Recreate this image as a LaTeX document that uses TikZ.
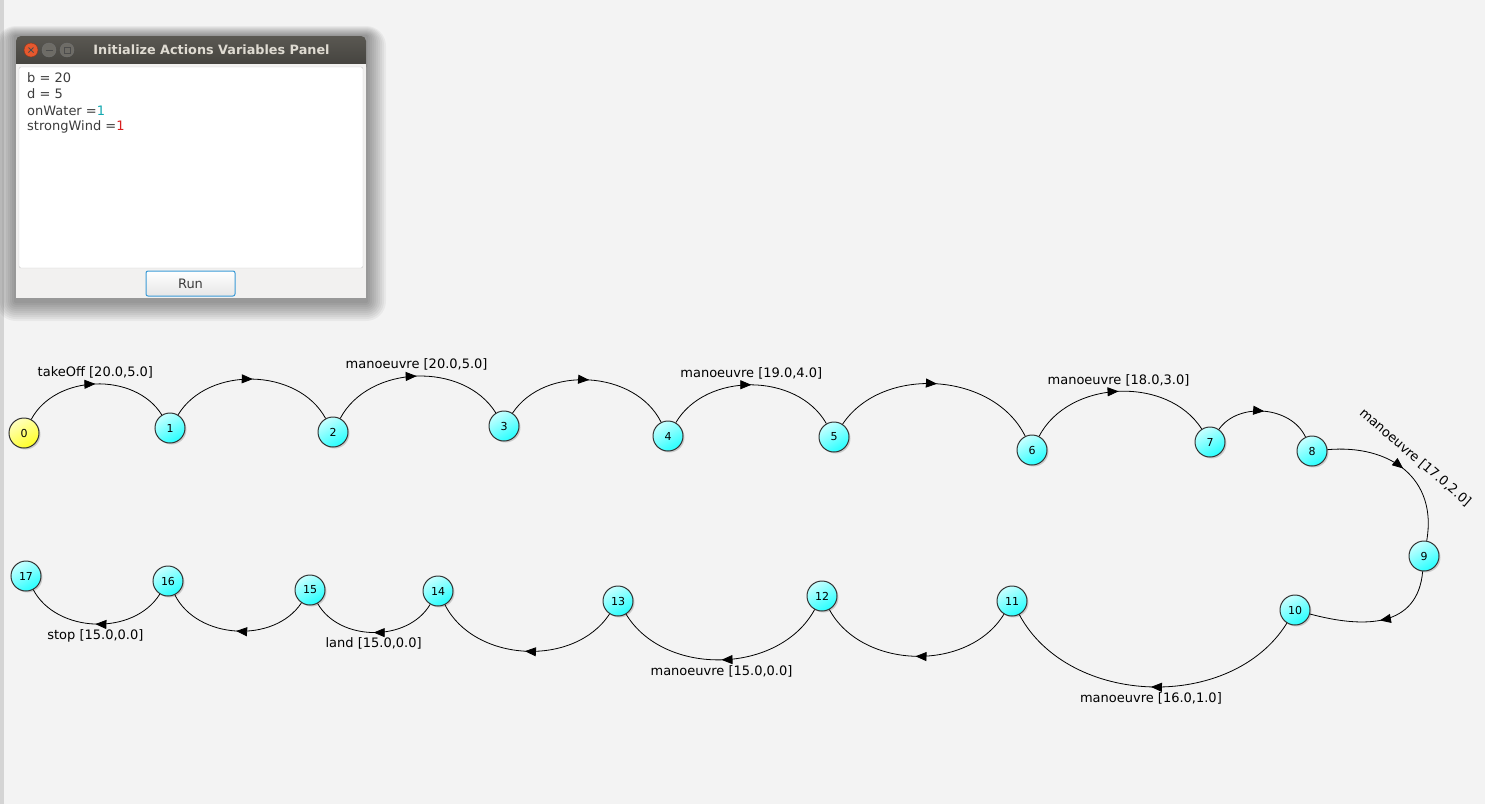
\documentclass[tikz,border=0pt]{standalone}
\usepackage{fontspec}
\setmainfont{DejaVu Sans}
\usetikzlibrary{arrows.meta,decorations.markings,shadows}

\definecolor{bgcol}{HTML}{F3F3F3}
\definecolor{stripcol}{HTML}{D4D4D4}
\definecolor{titletop}{HTML}{5A5852}
\definecolor{titlebot}{HTML}{3F3E3A}
\definecolor{titletext}{HTML}{DFDBD2}
\definecolor{winbody}{HTML}{F2F1F0}
\definecolor{panelborder}{HTML}{C9C9C9}
\definecolor{paneltext}{HTML}{3C3C3C}
\definecolor{valcyan}{HTML}{12A8B0}
\definecolor{valred}{HTML}{D81E1E}
\definecolor{closecol}{HTML}{E5582E}
\definecolor{wbtncol}{HTML}{6E6C66}
\definecolor{runborder}{HTML}{3A9AD6}

\begin{document}
\begin{tikzpicture}[
        x=1pt, y=1pt,
        every node/.style={font=\fontsize{13}{15}\selectfont},
        statenode/.style={circle, draw=black!80, line width=1pt, minimum size=30pt, inner sep=0pt, top color=cyan!22!white, bottom color=cyan!85!white, shading angle=30, drop shadow={shadow xshift=1.5pt, shadow yshift=-1.5pt, opacity=0.35}, font=\fontsize{11}{12}\selectfont},
        startnode/.style={statenode, top color=yellow!25!white, bottom color=yellow!85!white, shading angle=30},
        trans/.style={draw=black, line width=0.8pt, postaction={decorate}, decoration={markings, mark=at position 0.5 with {\arrow{Triangle[length=11pt,width=9pt]}}}},
        tlabel/.style={inner sep=1pt},
        wbtn/.style={circle, minimum size=14pt, inner sep=0pt, draw=black!55, fill=wbtncol},
        winshade/.style={fill=black, opacity=0.045}
        ]

        % Canvas and left border strip
        \fill[bgcol] (0,0) rectangle (1485,-804);
        \useasboundingbox (0,0) rectangle (1485,-804);
        \fill[stripcol] (0,0) rectangle (4,-804);

        % Soft shadow of the panel window
        \fill[winshade, rounded corners=20pt] (-4,-26) rectangle (386,-321);
        \fill[winshade, rounded corners=18pt] (-2,-27) rectangle (384,-319);
        \fill[winshade, rounded corners=16pt] (0,-28) rectangle (382,-317);
        \fill[winshade, rounded corners=14pt] (2,-29) rectangle (380,-315);
        \fill[winshade, rounded corners=12pt] (4,-30) rectangle (378,-313);
        \fill[winshade, rounded corners=10pt] (6,-31) rectangle (376,-311);
        \fill[winshade, rounded corners=8pt] (8,-32) rectangle (374,-309);
        \fill[winshade, rounded corners=6pt] (10,-33) rectangle (372,-307);
        \fill[winshade, rounded corners=4pt] (12,-34) rectangle (370,-305);
        \fill[winshade, rounded corners=2pt] (14,-35) rectangle (368,-303);

        % Initialize Actions Variables Panel window
        \shade[top color=titletop, bottom color=titlebot, rounded corners=5pt] (16,-36) rectangle (366,-72);
        \fill[winbody] (16,-64) rectangle (366,-298);
        \node[wbtn, fill=closecol, draw=closecol!60!black] (closebtn) at (31,-50) {};
        \node[wbtn] (minbtn) at (49,-50) {};
        \node[wbtn] (maxbtn) at (67,-50) {};
        \draw[black!70, line width=0.8pt] ([shift={(-2.5,-2.5)}]closebtn.center) -- ([shift={(2.5,2.5)}]closebtn.center) ([shift={(-2.5,2.5)}]closebtn.center) -- ([shift={(2.5,-2.5)}]closebtn.center);
        \draw[black!70, line width=1pt] ([xshift=-3.5pt]minbtn.center) -- ([xshift=3.5pt]minbtn.center);
        \draw[black!70, line width=0.8pt] ([shift={(-3,-3)}]maxbtn.center) rectangle ([shift={(3,3)}]maxbtn.center);
        \node[text=titletext, font=\bfseries\fontsize{12.8}{14}\selectfont] (wintitle) at (211.5,-50) {Initialize Actions Variables Panel};

        % Text area with the initial values
        \draw[panelborder, fill=white, rounded corners=2pt] (19,-67) rectangle (363,-268);
        \node[anchor=west, text=paneltext, inner sep=0pt] (varb) at (27,-78) {b = 20};
        \node[anchor=west, text=paneltext, inner sep=0pt] (vard) at (27,-94) {d = 5};
        \node[anchor=west, text=paneltext, inner sep=0pt] (varwater) at (27,-111) {onWater =\textcolor{valcyan}{1}};
        \node[anchor=west, text=paneltext, inner sep=0pt] (varwind) at (27,-127) {strongWind =\textcolor{valred}{1}};

        % Run button
        \shade[top color=white, bottom color=black!10, draw=runborder, line width=1pt, rounded corners=2pt] (146,-271) rectangle (235,-296);
        \node[text=paneltext] (runlabel) at (190.5,-284) {Run};

        % States of the plan
        \node[startnode] (s0) at (24,-433) {0};
        \node[statenode] (s1) at (170,-428) {1};
        \node[statenode] (s2) at (333,-432) {2};
        \node[statenode] (s3) at (504,-426) {3};
        \node[statenode] (s4) at (668,-436) {4};
        \node[statenode] (s5) at (834,-437) {5};
        \node[statenode] (s6) at (1032,-450) {6};
        \node[statenode] (s7) at (1210,-442) {7};
        \node[statenode] (s8) at (1312,-451) {8};
        \node[statenode] (s9) at (1424,-556) {9};
        \node[statenode] (s10) at (1295,-610) {10};
        \node[statenode] (s11) at (1012,-601) {11};
        \node[statenode] (s12) at (822,-596) {12};
        \node[statenode] (s13) at (618,-601) {13};
        \node[statenode] (s14) at (438,-591) {14};
        \node[statenode] (s15) at (310,-590) {15};
        \node[statenode] (s16) at (168,-581) {16};
        \node[statenode] (s17) at (26,-576) {17};

        % Transitions, top row
        \draw[trans] (s0) to[bend left=60] node[above=4pt, tlabel] {takeOff [20.0,5.0]} (s1);
        \draw[trans] (s1) to[bend left=60] (s2);
        \draw[trans] (s2) to[bend left=60] node[above=4pt, tlabel] {manoeuvre [20.0,5.0]} (s3);
        \draw[trans] (s3) to[bend left=60] (s4);
        \draw[trans] (s4) to[bend left=60] node[above=4pt, tlabel] {manoeuvre [19.0,4.0]} (s5);
        \draw[trans] (s5) to[bend left=60] (s6);
        \draw[trans] (s6) to[bend left=60] node[above=4pt, tlabel] {manoeuvre [18.0,3.0]} (s7);
        \draw[trans] (s7) to[bend left=60] (s8);

        % Turn at the right end
        \draw[trans] (s8) to[out=5, in=80, looseness=1.2] node[sloped, above=9pt, tlabel] {manoeuvre [17.0,2.0]} (s9);
        \draw[trans] (s9) to[out=-95, in=-15, looseness=1.2] (s10);

        % Transitions, bottom row
        \draw[trans] (s10) to[bend left=60] node[below=4pt, tlabel] {manoeuvre [16.0,1.0]} (s11);
        \draw[trans] (s11) to[bend left=60] (s12);
        \draw[trans] (s12) to[bend left=60] node[below=4pt, tlabel] {manoeuvre [15.0,0.0]} (s13);
        \draw[trans] (s13) to[bend left=60] (s14);
        \draw[trans] (s14) to[bend left=60] node[below=4pt, tlabel] {land [15.0,0.0]} (s15);
        \draw[trans] (s15) to[bend left=60] (s16);
        \draw[trans] (s16) to[bend left=60] node[below=4pt, tlabel] {stop [15.0,0.0]} (s17);

    \end{tikzpicture}
\end{document}
